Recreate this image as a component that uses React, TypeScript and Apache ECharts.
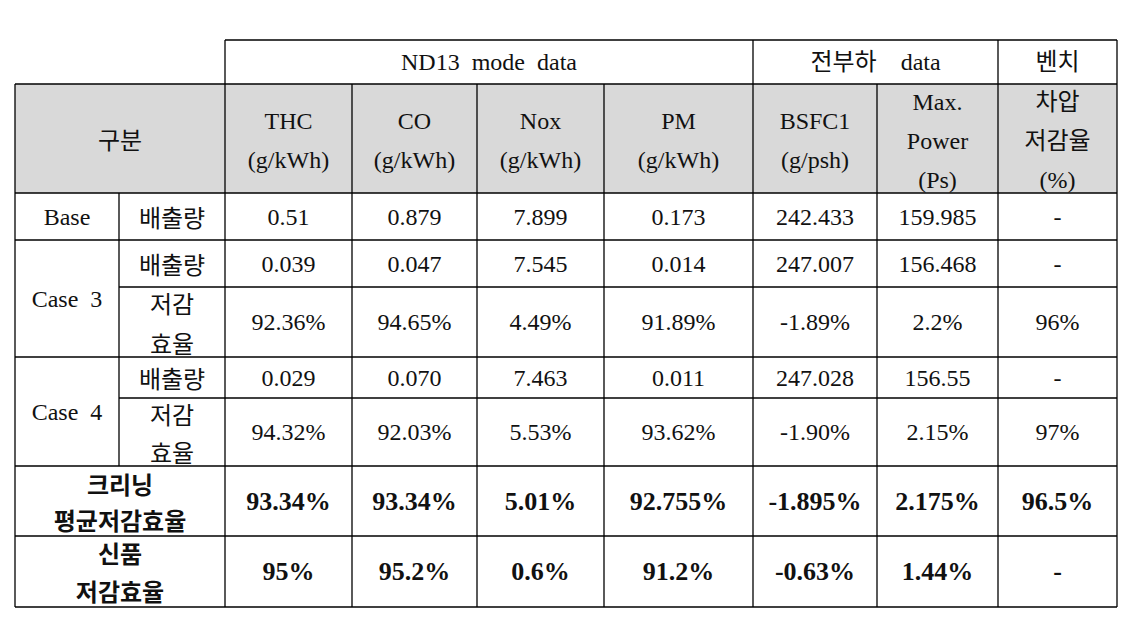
import React, { useEffect, useRef } from "react";
import * as echarts from "echarts";

// ---- data ----
const groupHeaders = ["ND13  mode  data", "전부하    data", "벤치"];
const groupSpans = [4, 2, 1];
const rowHeaderTitle = "구분";
const columnHeaders = [
  "THC\n(g/kWh)",
  "CO\n(g/kWh)",
  "Nox\n(g/kWh)",
  "PM\n(g/kWh)",
  "BSFC1\n(g/psh)",
  "Max.\nPower\n(Ps)",
  "차압\n저감율\n(%)",
];
const baseLabel = "Base";
const case3Label = "Case  3";
const case4Label = "Case  4";
const emissionLabel = "배출량";
const efficiencyLabel = "저감\n효율";
const cleaningLabel = "크리닝\n평균저감효율";
const newLabel = "신품\n저감효율";

const baseEmission = ["0.51", "0.879", "7.899", "0.173", "242.433", "159.985", "-"];
const case3Emission = ["0.039", "0.047", "7.545", "0.014", "247.007", "156.468", "-"];
const case3Efficiency = ["92.36%", "94.65%", "4.49%", "91.89%", "-1.89%", "2.2%", "96%"];
const case4Emission = ["0.029", "0.070", "7.463", "0.011", "247.028", "156.55", "-"];
const case4Efficiency = ["94.32%", "92.03%", "5.53%", "93.62%", "-1.90%", "2.15%", "97%"];
const cleaningAverage = ["93.34%", "93.34%", "5.01%", "92.755%", "-1.895%", "2.175%", "96.5%"];
const newProduct = ["95%", "95.2%", "0.6%", "91.2%", "-0.63%", "1.44%", "-"];

// ---- layout ----
const LEFT = 15;
const SUB = 119;
const colEdges = [225, 352, 477, 604, 753, 877, 998, 1117];
const Y = {
  top: 40,
  head: 84,
  base: 193,
  c3a: 240,
  c3b: 287,
  c4a: 357,
  c4b: 398,
  avg: 466,
  neo: 536,
  bottom: 607,
};
const FONT = "Liberation Serif, Noto Sans CJK KR, serif";
const KFONT = "Noto Sans CJK KR, sans-serif";

export default function App() {
  const ref = useRef<HTMLDivElement>(null);
  useEffect(() => {
    document.body.style.margin = "0";
    const chart = echarts.init(ref.current!, null, { renderer: "svg" });
    const els: any[] = [];
    const RIGHT = colEdges[colEdges.length - 1];

    // header fill
    els.push({
      type: "rect",
      shape: { x: LEFT, y: Y.head, width: RIGHT - LEFT, height: Y.base - Y.head },
      style: { fill: "#d9d9d9" },
      z: 0,
    });

    const text = (
      t: string,
      x0: number,
      x1: number,
      y0: number,
      y1: number,
      opts: any = {}
    ) => {
      els.push({
        type: "text",
        x: (x0 + x1) / 2 + (opts.dx || 0),
        y: (y0 + y1) / 2 + (opts.dy || 0),
        z: 3,
        style: {
          text: t,
          textAlign: "center",
          textVerticalAlign: "middle",
          fontSize: opts.size || 24,
          fontFamily: opts.family || FONT,
          fontWeight: opts.bold ? "bold" : "normal",
          lineHeight: opts.lh || 39,
          fill: "#111",
        },
      });
    };
    const hline = (x1: number, x2: number, y: number) =>
      els.push({ type: "line", z: 2, shape: { x1, y1: y, x2, y2: y }, style: { stroke: "#000", lineWidth: 1.3 } });
    const vline = (x: number, y1: number, y2: number) =>
      els.push({ type: "line", z: 2, shape: { x1: x, y1, x2: x, y2 }, style: { stroke: "#000", lineWidth: 1.3 } });

    // grid lines
    hline(colEdges[0], RIGHT, Y.top);
    [Y.head, Y.base, Y.c3a, Y.c4a, Y.avg, Y.neo, Y.bottom].forEach((y) => hline(LEFT, RIGHT, y));
    [Y.c3b, Y.c4b].forEach((y) => hline(SUB, RIGHT, y));
    vline(LEFT, Y.head, Y.bottom);
    vline(SUB, Y.base, Y.avg);
    let gi = 0;
    const groupStarts = new Set<number>();
    groupSpans.forEach((s) => {
      groupStarts.add(gi);
      gi += s;
    });
    groupStarts.add(gi);
    colEdges.forEach((x, i) => vline(x, groupStarts.has(i) ? Y.top : Y.head, Y.bottom));

    // group headers
    let c = 0;
    groupHeaders.forEach((g, i) => {
      text(g, colEdges[c], colEdges[c + groupSpans[i]], Y.top, Y.head, { size: 24 });
      c += groupSpans[i];
    });

    // column headers
    text(rowHeaderTitle, LEFT, colEdges[0], Y.head, Y.base, { family: KFONT, size: 24 });
    columnHeaders.forEach((h, i) => text(h, colEdges[i], colEdges[i + 1], Y.head, Y.base, { dy: 2 }));

    // row labels
    const kopt = { family: KFONT, size: 24 };
    text(baseLabel, LEFT, SUB, Y.base, Y.c3a);
    text(emissionLabel, SUB, colEdges[0], Y.base, Y.c3a, kopt);
    text(case3Label, LEFT, SUB, Y.c3a, Y.c4a);
    text(emissionLabel, SUB, colEdges[0], Y.c3a, Y.c3b, kopt);
    text(efficiencyLabel, SUB, colEdges[0], Y.c3b, Y.c4a, { ...kopt, lh: 40 });
    text(case4Label, LEFT, SUB, Y.c4a, Y.avg);
    text(emissionLabel, SUB, colEdges[0], Y.c4a, Y.c4b, kopt);
    text(efficiencyLabel, SUB, colEdges[0], Y.c4b, Y.avg, { ...kopt, lh: 38 });
    text(cleaningLabel, LEFT, colEdges[0], Y.avg, Y.neo, { ...kopt, lh: 36, bold: true });
    text(newLabel, LEFT, colEdges[0], Y.neo, Y.bottom, { ...kopt, lh: 38, bold: true });

    const rows: [string[], number, number, boolean][] = [
      [baseEmission, Y.base, Y.c3a, false],
      [case3Emission, Y.c3a, Y.c3b, false],
      [case3Efficiency, Y.c3b, Y.c4a, false],
      [case4Emission, Y.c4a, Y.c4b, false],
      [case4Efficiency, Y.c4b, Y.avg, false],
      [cleaningAverage, Y.avg, Y.neo, true],
      [newProduct, Y.neo, Y.bottom, true],
    ];
    rows.forEach(([vals, y0, y1, bold]) =>
      vals.forEach((v, i) =>
        text(v, colEdges[i], colEdges[i + 1], y0, y1, { bold, size: bold ? 26 : 24 })
      )
    );

    chart.setOption({ animation: false, graphic: { elements: els } });
    return () => chart.dispose();
  }, []);
  return <div ref={ref} style={{ width: 1131, height: 621 }} />;
}
